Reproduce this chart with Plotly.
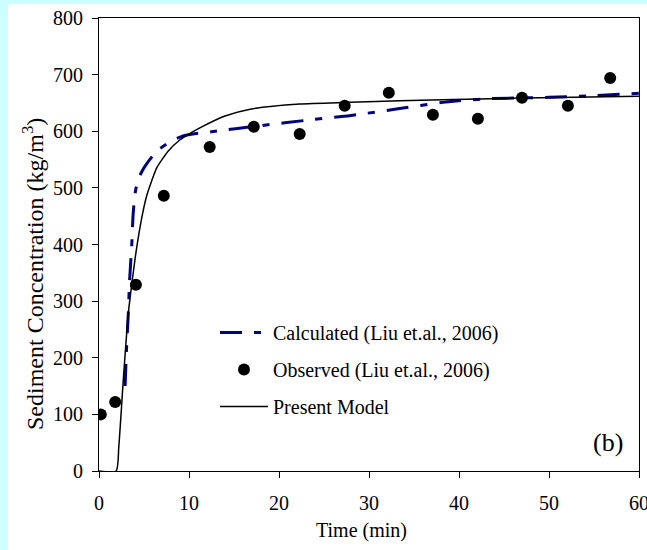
import plotly.graph_objects as go

# Observed data (Liu et al., 2006)
obs_t = [0.2, 1.8, 4.1, 7.2, 12.3, 17.2, 22.3, 27.3, 32.2, 37.1, 42.1, 47.0, 52.1, 56.8]
obs_c = [100, 122, 329, 486, 572, 608, 595, 645, 668, 629, 622, 659, 645, 694]

# Calculated curve (Liu et al., 2006)
calc_t = [2.9, 3.07, 3.26, 3.4, 3.63, 3.8, 4.07, 4.5, 5.1, 6.6, 9.2, 12.5, 18.0, 23.4, 28.0, 33.4, 38.2, 42.7, 50.0, 55.0, 60.0]
calc_c = [150, 220, 279, 337, 396, 455, 496, 520, 538, 567, 591, 599, 610, 620, 628, 640, 651, 657, 660, 663, 667]

# Present model curve
pm_t = [0.0, 1.9, 2.2, 2.7, 3.26, 3.7, 4.2, 4.85, 5.3, 5.85, 6.4, 7.7, 9.0, 10.2, 11.2, 14.0, 16.8, 22.3, 27.9, 33.4, 45.0, 60.0]
pm_c = [0, 0, 43, 161, 279, 337, 396, 455, 486, 512, 535, 565, 585, 597, 606, 627, 639, 648, 651, 654, 658, 662]

x_ticks = [0, 10, 20, 30, 40, 50, 60]
y_ticks = [0, 100, 200, 300, 400, 500, 600, 700, 800]

FONT = "Liberation Serif, Times New Roman, serif"

fig = go.Figure()
fig.add_trace(go.Scatter(
    x=calc_t, y=calc_c, mode="lines", name="Calculated (Liu et.al., 2006)",
    line=dict(color="#000080", width=3, dash="22px,12px,7px,12px", shape="spline", smoothing=0.8),
    legendgroup="a",
))
fig.add_trace(go.Scatter(
    x=obs_t, y=obs_c, mode="markers", name="Observed (Liu et.al., 2006)",
    marker=dict(color="black", size=12, symbol="circle"),
    legendgroup="b",
))
fig.add_trace(go.Scatter(
    x=pm_t, y=pm_c, mode="lines", name="Present Model",
    line=dict(color="black", width=1.5, shape="spline", smoothing=0.6),
    legendgroup="c",
))

L, R, T, B = 99, 8, 18, 79
W, H = 647, 550
pw, ph = W - L - R, H - T - B

def px(xp):
    return (xp - L) / pw

def py(yp):
    return (H - B - yp) / ph

fig.add_shape(type="rect", xref="paper", yref="paper", layer="below",
              x0=px(8), x1=px(W), y0=py(H), y1=py(4),
              fillcolor="white", line=dict(width=0))

fig.add_annotation(text="(b)", xref="paper", yref="paper",
                   x=px(608), y=py(442), xanchor="center", yanchor="middle",
                   showarrow=False, font=dict(family=FONT, size=26, color="black"))

fig.add_annotation(text="Sediment Concentration (kg/m<sup>3</sup>)", xref="paper", yref="paper",
                   x=px(33), y=py(274), xanchor="center", yanchor="middle", textangle=-90,
                   showarrow=False, font=dict(family=FONT, size=24, color="black"))

fig.add_annotation(text="Time (min)", xref="paper", yref="paper",
                   x=px(361), y=py(530), xanchor="center", yanchor="middle",
                   showarrow=False, font=dict(family=FONT, size=20, color="black"))

axis_common = dict(
    showgrid=False, zeroline=False, showline=True, linecolor="black", linewidth=1,
    mirror=True, ticks="outside", ticklen=6, tickcolor="black", tickwidth=1,
    tickfont=dict(family=FONT, size=20, color="black"), ticklabeloverflow="allow",
    automargin=False,
)

fig.update_layout(
    width=W, height=H,
    margin=dict(l=L, r=R, t=T, b=B, autoexpand=False),
    paper_bgcolor="#CCFFFF",
    plot_bgcolor="white",
    font=dict(family=FONT, color="black"),
    xaxis=dict(range=[0, 60], tickvals=x_ticks, ticklabelstandoff=8, **axis_common),
    yaxis=dict(range=[0, 800], tickvals=y_ticks, ticklabelstandoff=5, **axis_common),
    legend=dict(x=px(215), y=py(313), xanchor="left", yanchor="top",
                bgcolor="rgba(0,0,0,0)", font=dict(family=FONT, size=20),
                itemwidth=48, tracegroupgap=8, traceorder="grouped"),
    showlegend=True,
)

fig.write_html("out.html")
